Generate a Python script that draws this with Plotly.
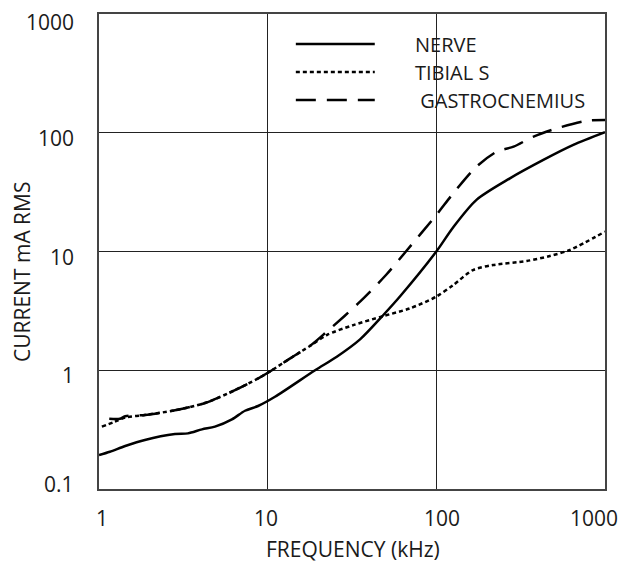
import math
import plotly.graph_objects as go

# Frequency (kHz) and current (mA RMS) for each tissue
nerve_freq = [1.0, 1.16, 1.43, 1.87, 2.82, 3.37, 4.08, 4.87, 6.14, 7.34, 8.77, 11.05,
              19.1, 25.7, 35.3, 48.5, 61, 100, 126, 173, 273, 431, 649, 1000]
nerve_current = [0.193, 0.206, 0.23, 0.259, 0.29, 0.294, 0.318, 0.335, 0.386, 0.456, 0.5, 0.598,
                 1.0, 1.3, 1.82, 2.92, 4.2, 10.0, 16.0, 27.2, 41.3, 59, 78.9, 101]

tibial_freq = [1.04, 1.24, 1.43, 1.87, 2.82, 4.25, 6.4, 8.8, 10.6, 13.6, 17.8, 22.4,
               32.2, 48.5, 69.7, 100, 126, 165, 217, 344, 471, 619, 1000]
tibial_current = [0.335, 0.369, 0.40, 0.42, 0.46, 0.53, 0.68, 0.855, 1.0, 1.26, 1.6, 1.98,
                  2.4, 2.86, 3.32, 4.17, 5.22, 6.98, 7.69, 8.32, 9.16, 10.3, 14.7]

gastro_freq = [1.15, 1.33, 1.43, 1.87, 2.82, 4.25, 6.4, 8.8, 10.6, 13.6, 17.8, 22.4,
               35.3, 50.6, 66, 100, 126, 173, 228, 287, 377, 518, 778, 1000]
gastro_current = [0.39, 0.39, 0.41, 0.42, 0.46, 0.53, 0.68, 0.855, 1.0, 1.26, 1.6, 2.11,
                  3.78, 6.4, 10.0, 20.3, 30.9, 51.8, 69.2, 76.4, 92.7, 109, 126, 128]

series_names = ["NERVE", "TIBIAL S", " GASTROCNEMIUS"]
series_dash = ["solid", "4px,3px", "20px,11px"]

x_ticks = [1, 10, 100, 1000]
x_tick_text = ["1", "10", "100", "1000"]
y_ticks = [0.1, 1, 10, 100, 1000]
y_tick_text = ["0.1", "1", "10", "100", "1000"]

FONT = "Open Sans"
INK = "#1a1a1a"
TICK_FONT = dict(family=FONT, size=21, color=INK)

fig = go.Figure()
for xs, ys, name, dash in zip([nerve_freq, tibial_freq, gastro_freq],
                              [nerve_current, tibial_current, gastro_current],
                              series_names, series_dash):
    fig.add_trace(go.Scatter(
        x=xs, y=ys, mode="lines", name=name.strip(), showlegend=False,
        line=dict(color="black", width=2.5, dash=dash, shape="spline", smoothing=0.8),
    ))

axis_common = dict(
    showline=True, mirror=True, linecolor="#444", linewidth=1.5,
    showgrid=True, gridcolor="#222", gridwidth=1.3,
    ticks="", zeroline=False, showticklabels=False,
)
fig.update_xaxes(type="log", range=[0, 3], tickvals=x_ticks, **axis_common)
fig.update_yaxes(type="log", range=[-1, 3], tickvals=y_ticks, **axis_common)

# Tick labels, nudged so the end labels stay inside the page
x_label_shift = {1: 3, 10: -2, 100: 6, 1000: -11}
for v, t in zip(x_ticks, x_tick_text):
    fig.add_annotation(xref="x", yref="paper", x=math.log10(v), y=-0.061,
                       xanchor="center", yanchor="middle", showarrow=False,
                       xshift=x_label_shift.get(v, 0), text=t, font=TICK_FONT)
y_label_shift = {0.1: 5, 1000: -8}
for v, t in zip(y_ticks, y_tick_text):
    fig.add_annotation(xref="paper", yref="y", x=-0.045, y=math.log10(v),
                       xanchor="right", yanchor="middle", showarrow=False,
                       yshift=y_label_shift.get(v, -5), text=t, font=TICK_FONT)

# Hand-drawn key: white panel over the grid, long sample strokes, labels
fig.add_shape(type="rect", xref="paper", yref="paper", layer="between",
              x0=0.37, x1=0.985, y0=0.786, y1=0.985,
              fillcolor="white", line=dict(width=0))
key_y = [0.937, 0.878, 0.819]
for name, dash, ky in zip(series_names, series_dash, key_y):
    fig.add_shape(type="line", xref="paper", yref="paper", layer="between",
                  x0=0.389, x1=0.545, y0=ky, y1=ky,
                  line=dict(color="black", width=2.5, dash=dash))
    fig.add_annotation(xref="paper", yref="paper", x=0.621, y=ky - 0.002,
                       xanchor="left", yanchor="middle", showarrow=False,
                       text=name.replace(" ", "&nbsp;"),
                       font=dict(family=FONT, size=20, color=INK))

fig.add_annotation(xref="paper", yref="paper", x=0.502, y=-0.1263,
                   xanchor="center", yanchor="middle", showarrow=False,
                   text="FREQUENCY (kHz)", font=dict(family=FONT, size=21, color=INK))
fig.add_annotation(xref="paper", yref="paper", x=-0.152, y=0.457,
                   xanchor="center", yanchor="middle", showarrow=False, textangle=-90,
                   text="CURRENT mA RMS", font=dict(family=FONT, size=21, color=INK))

fig.update_layout(
    width=622, height=563,
    margin=dict(l=99, r=17, t=14, b=74),
    paper_bgcolor="white", plot_bgcolor="white",
    font=dict(family=FONT, size=20, color=INK),
)

fig.write_html("out.html")
